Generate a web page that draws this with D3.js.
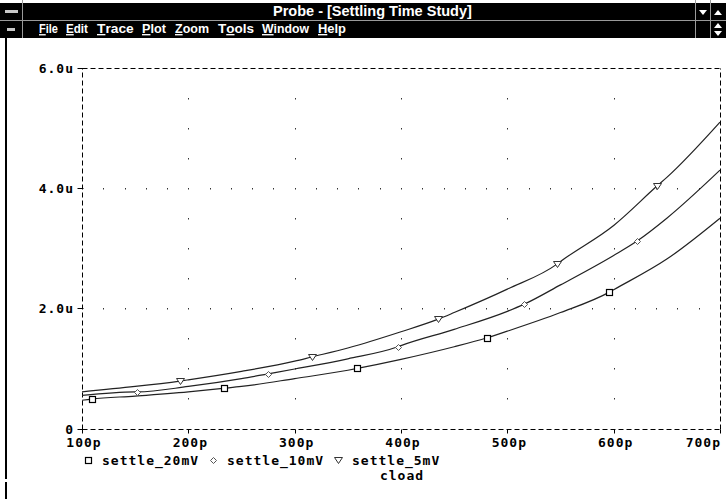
<!DOCTYPE html>
<html>
<head>
<meta charset="utf-8">
<script src="https://cdn.jsdelivr.net/npm/d3@7"></script>
<style>
  html, body { margin: 0; padding: 0; background: #fff; }
  svg { display: block; }
  .mono { font-family: "DejaVu Sans Mono", "Liberation Mono", monospace; font-weight: bold; font-size: 13px; letter-spacing: 1px; fill: #000; }
  .ui { font-family: "Liberation Sans Narrow", "Liberation Sans", Arial, sans-serif; font-weight: bold; fill: #fff; }
</style>
</head>
<body>
<script>
// Settling time versus load capacitance, three error bands
const cload    = [100, 150, 200, 250, 300, 350, 400, 450, 500, 550, 600, 650, 700];      // pF
const settle20 = [0.47, 0.54, 0.61, 0.70, 0.83, 0.97, 1.15, 1.36, 1.62, 1.93, 2.31, 2.82, 3.50]; // us
const settle10 = [0.55, 0.61, 0.70, 0.83, 0.99, 1.16, 1.38, 1.65, 1.95, 2.39, 2.88, 3.50, 4.30];
const settle5  = [0.61, 0.70, 0.81, 0.95, 1.12, 1.34, 1.61, 1.93, 2.32, 2.78, 3.38, 4.18, 5.10];

// symbol positions along each trace (cload pF, settle us)
const marks20 = [[109, 0.49], [234, 0.67], [359, 1.00], [481, 1.51], [596, 2.27]];
const marks10 = [[152, 0.61], [275, 0.91], [397, 1.36], [516, 2.07], [622, 3.12]];
const marks5  = [[192, 0.79], [316, 1.19], [435, 1.82], [547, 2.74], [641, 4.04]];

const xTicks = [100, 200, 300, 400, 500, 600, 700];
const xTickLabels = ["100p", "200p", "300p", "400p", "500p", "600p", "700p"];
const yTicks = [0, 2, 4, 6];
const yTickLabels = ["0", "2.0u", "4.0u", "6.0u"];
const traceNames = ["settle_20mV", "settle_10mV", "settle_5mV"];
// menu entries: text before the hot key, hot key, text after
const menuItems = [["", "F", "ile"], ["", "E", "dit"], ["", "T", "race"], ["", "P", "lot"],
                   ["", "Z", "oom"], ["T", "o", "ols"], ["", "W", "indow"], ["", "H", "elp"]];

const W = 726, H = 499;
const svg = d3.select("body").append("svg").attr("width", W).attr("height", H);

// squeeze a text element horizontally so it spans the given width from x0
function fitText(t, x0, width) {
  const w = t.node().getComputedTextLength();
  const s = width / w;
  t.attr("x", 0).attr("transform", `translate(${x0},0) scale(${s},1)`);
}

// ---- window chrome ----
svg.append("rect").attr("x", 0).attr("y", 0).attr("width", W).attr("height", H).attr("fill", "#fff");
svg.append("rect").attr("x", 0).attr("y", 3).attr("width", W).attr("height", 35).attr("fill", "#000");
svg.append("line").attr("x1", 0).attr("x2", W).attr("y1", 20.5).attr("y2", 20.5).attr("stroke", "#9a9a9a");
[22.5, 695.5, 710.5].forEach(x => {
  svg.append("line").attr("x1", x).attr("x2", x).attr("y1", 0).attr("y2", 38).attr("stroke", "#9a9a9a");
});
// system menu boxes and scroll arrows
svg.append("rect").attr("x", 5).attr("y", 10).attr("width", 13).attr("height", 3).attr("fill", "#c8c8c8");
svg.append("rect").attr("x", 7).attr("y", 28).attr("width", 8).attr("height", 3).attr("fill", "#c8c8c8");
svg.append("path").attr("d", "M699,10 L707,10 L703,15 Z").attr("fill", "#fff");
svg.append("path").attr("d", "M714,15 L722,15 L718,10 Z").attr("fill", "#fff");
svg.append("path").attr("d", "M714,28 L722,28 L718,23 Z M714,31 L722,31 L718,36 Z").attr("fill", "#fff");

const title = svg.append("text").attr("class", "ui").attr("y", 16).attr("font-size", 14.5)
  .text("Probe - [Settling Time Study]");
fitText(title, 273, 199);

const menuX = [39, 66, 97, 142, 175, 218, 262, 318];
const menuW = [19, 22, 36, 24, 34, 35, 47, 28];
menuItems.forEach((m, i) => {
  const t = svg.append("text").attr("class", "ui").attr("y", 33).attr("font-size", 13.5);
  if (m[0]) t.append("tspan").text(m[0]);
  t.append("tspan").attr("text-decoration", "underline").text(m[1]);
  t.append("tspan").text(m[2]);
  fitText(t, menuX[i], menuW[i]);
});

// left frame edge
svg.append("rect").attr("x", 5).attr("y", 38).attr("width", 2).attr("height", 441).attr("fill", "#000");
svg.append("rect").attr("x", 5).attr("y", 482).attr("width", 2).attr("height", 17).attr("fill", "#000");

// ---- plot ----
const x = d3.scaleLinear().domain([100, 700]).range([82, 720]);
const y = d3.scaleLinear().domain([0, 6]).range([428.5, 68]);
const px = v => Math.round(x(v)) + 0.5;
const py = v => Math.round(y(v)) + 0.5;

const g = svg.append("g");

// dotted grid
const dots = [];
xTicks.slice(1, -1).forEach(c => {
  d3.range(0.5, 6, 0.5).forEach(v => dots.push([c, v]));
});
[2, 4].forEach(v => {
  d3.range(120, 700, 20).forEach(c => { if (c % 100 !== 0) dots.push([c, v]); });
});
g.selectAll("rect.dot").data(dots).join("rect").attr("class", "dot")
  .attr("x", d => Math.round(x(d[0]))).attr("y", d => Math.round(y(d[1])))
  .attr("width", 1).attr("height", 1.5).attr("fill", "#333");

// dashed frame
const dash = "5,3";
const frame = [[100, 0, 700, 0], [100, 6, 700, 6], [100, 0, 100, 6], [700, 0, 700, 6]];
g.selectAll("line.frame").data(frame).join("line").attr("class", "frame")
  .attr("x1", d => px(d[0])).attr("y1", d => py(d[1]))
  .attr("x2", d => px(d[2])).attr("y2", d => py(d[3]))
  .attr("stroke", "#000").attr("stroke-width", 1).attr("stroke-dasharray", dash);

// axis ticks
g.selectAll("line.xt").data(xTicks).join("line").attr("class", "xt")
  .attr("x1", d => px(d)).attr("x2", d => px(d))
  .attr("y1", py(0)).attr("y2", py(0) + 4).attr("stroke", "#000");
g.selectAll("line.yt").data(yTicks).join("line").attr("class", "yt")
  .attr("x1", px(100) - 5).attr("x2", px(100) + 1)
  .attr("y1", d => py(d)).attr("y2", d => py(d)).attr("stroke", "#000");

// tick labels
g.selectAll("text.xl").data(xTicks).join("text").attr("class", "mono xl")
  .attr("x", (d, i) => i === xTicks.length - 1 ? x(d) + 1 : x(d) + 2)
  .attr("y", 447)
  .attr("text-anchor", (d, i) => i === xTicks.length - 1 ? "end" : "middle")
  .text((d, i) => xTickLabels[i]);
g.selectAll("text.yl").data(yTicks).join("text").attr("class", "mono yl")
  .attr("x", 74).attr("y", d => y(d) + 5)
  .attr("text-anchor", "end")
  .text((d, i) => yTickLabels[i]);

// traces
const series = [
  { vals: settle20, marks: marks20, sym: "square" },
  { vals: settle10, marks: marks10, sym: "diamond" },
  { vals: settle5,  marks: marks5,  sym: "triangle" }
];
const line = d3.line().x(d => x(d[0])).y(d => y(d[1])).curve(d3.curveMonotoneX);
series.forEach(s => {
  const pts = cload.map((c, i) => [c, s.vals[i]]).concat(s.marks).sort((a, b) => a[0] - b[0]);
  g.append("path").attr("d", line(pts)).attr("fill", "none")
    .attr("stroke", "#222").attr("stroke-width", 1.2);
});

function symbol(sel, kind) {
  if (kind === "square") {
    sel.append("rect").attr("x", -3).attr("y", -3).attr("width", 6).attr("height", 6)
      .attr("fill", "#fff").attr("stroke", "#000").attr("stroke-width", 1.2);
  } else if (kind === "diamond") {
    sel.append("path").attr("d", "M0,-3 L3,0 L0,3 L-3,0 Z")
      .attr("fill", "#fff").attr("stroke", "#555").attr("stroke-width", 1);
  } else {
    sel.append("path").attr("d", "M-4,-3 L4,-3 L0,3 Z")
      .attr("fill", "#fff").attr("stroke", "#333").attr("stroke-width", 1);
  }
}
series.forEach(s => {
  s.marks.forEach(m => {
    const grp = g.append("g").attr("transform", `translate(${Math.round(x(m[0])) + 0.5},${Math.round(y(m[1])) + 0.5})`);
    symbol(grp, s.sym);
  });
});

// legend: symbol, then name, on a monospaced row
const legendX = [88, 213, 338];
traceNames.forEach((n, i) => {
  const grp = g.append("g").attr("transform", `translate(${legendX[i] + 0.5},${460.5})`);
  symbol(grp, series[i].sym);
  g.append("text").attr("class", "mono").attr("x", legendX[i] + 14).attr("y", 465).text(n);
});
g.append("text").attr("class", "mono").attr("x", 402).attr("y", 480)
  .attr("text-anchor", "middle").text("cload");
</script>
</body>
</html>
